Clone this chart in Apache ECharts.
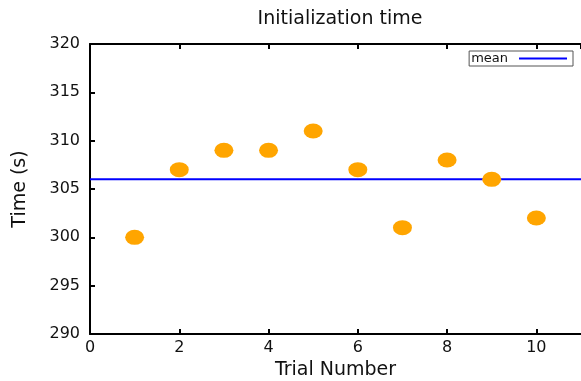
<!DOCTYPE html>
<html>
<head>
<meta charset="utf-8">
<script src="https://cdn.jsdelivr.net/npm/echarts@6/dist/echarts.min.js"></script>
<style>
  html, body { margin: 0; padding: 0; background: #fff; }
  #chart { width: 581px; height: 381px; }
</style>
</head>
<body>
<div id="chart"></div>
<script>
// trial number -> init time (s)
const trials = [1, 2, 3, 4, 5, 6, 7, 8, 9, 10];
const times = [300, 307, 309, 309, 311, 307, 301, 308, 306, 302];
const meanValue = 306;
const meanSpan = [0, 11];

const font = 'DejaVu Sans, Arial, sans-serif';

const chart = echarts.init(document.getElementById('chart'));

const axisCommon = {
  axisLine: { lineStyle: { color: '#000', width: 2 } },
  axisTick: { inside: true, length: 5, lineStyle: { color: '#000', width: 2 } },
  splitLine: { show: false },
};

chart.setOption({
  animation: false,
  title: {
    text: 'Initialization time',
    left: 335,
    textAlign: 'center',
    top: 5,
    textStyle: { fontFamily: font, fontSize: 19, fontWeight: 'normal', color: '#111' },
  },
  legend: {
    right: 8,
    top: 51,
    align: 'right',
    padding: [1, 6, 1, 2],
    itemWidth: 48,
    itemHeight: 2,
    itemGap: 0,
    borderColor: '#555',
    borderWidth: 1,
    borderRadius: 0,
    data: [{ name: 'mean', icon: 'rect' }],
    textStyle: { fontFamily: font, fontSize: 13, color: '#111', padding: [0, 6, 0, 0] },
  },
  grid: { left: 90, right: 0, top: 44, bottom: 47, containLabel: false, outerBoundsMode: 'none' },
  xAxis: [
    {
      ...axisCommon,
      type: 'value',
      min: 0,
      max: 11,
      interval: 2,
      name: 'Trial Number',
      nameLocation: 'middle',
      nameGap: 27,
      nameTextStyle: { fontFamily: font, fontSize: 19, color: '#111' },
      axisLabel: {
        fontFamily: font, fontSize: 16, color: '#111', margin: 6,
        showMaxLabel: false,
      },
    },
    {
      ...axisCommon,
      type: 'value',
      position: 'top',
      min: 0,
      max: 11,
      interval: 2,
      axisLabel: { show: false },
    },
  ],
  yAxis: {
    ...axisCommon,
    type: 'value',
    min: 290,
    max: 320,
    interval: 5,
    name: 'Time (s)',
    nameLocation: 'middle',
    nameGap: 60,
    nameTextStyle: { fontFamily: font, fontSize: 19, color: '#111' },
    axisLabel: { fontFamily: font, fontSize: 16, color: '#111', margin: 10 },
  },
  series: [
    {
      name: 'mean',
      type: 'line',
      data: meanSpan.map(x => [x, meanValue]),
      symbol: 'none',
      color: '#0000ff',
      lineStyle: { color: '#0000ff', width: 2 },
      z: 1,
    },
    {
      name: 'time',
      type: 'scatter',
      data: trials.map((t, i) => [t, times[i]]),
      symbol: 'circle',
      symbolSize: [19, 15],
      itemStyle: { color: '#ffa500', opacity: 1 },
      z: 2,
    },
  ],
});
</script>
</body>
</html>
